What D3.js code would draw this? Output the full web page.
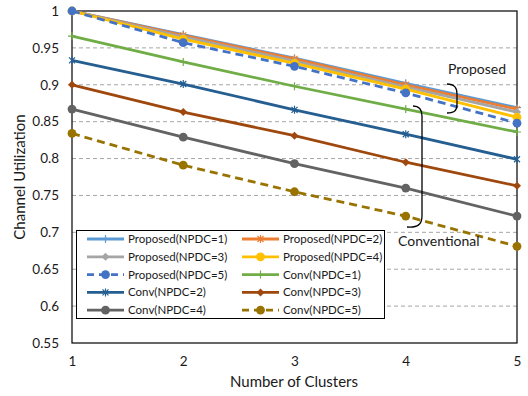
<!DOCTYPE html>
<html>
<head>
<meta charset="utf-8">
<script src="https://cdn.jsdelivr.net/npm/d3@7"></script>
<style>
  body { margin: 0; background: #fff; }
  svg text { font-family: Lato, "Open Sans", sans-serif; fill: #1a1a1a; }
</style>
</head>
<body>
<svg id="chart" width="528" height="396"></svg>
<script>
// data
const clusters = [1, 2, 3, 4, 5];
const yTicks = [0.55, 0.6, 0.65, 0.7, 0.75, 0.8, 0.85, 0.9, 0.95, 1];

const proposed1 = [1, 0.968, 0.936, 0.902, 0.869];
const proposed2 = [1, 0.967, 0.935, 0.900, 0.867];
const proposed3 = [1, 0.965, 0.932, 0.897, 0.863];
const proposed4 = [1, 0.962, 0.929, 0.894, 0.856];
const proposed5 = [1, 0.957, 0.925, 0.889, 0.848];
const conv1 = [0.966, 0.931, 0.898, 0.867, 0.836];
const conv2 = [0.933, 0.901, 0.866, 0.833, 0.799];
const conv3 = [0.900, 0.863, 0.831, 0.795, 0.763];
const conv4 = [0.867, 0.829, 0.793, 0.760, 0.722];
const conv5 = [0.834, 0.791, 0.755, 0.722, 0.681];

const series = [
  { name: 'Proposed(NPDC=1)', values: proposed1, color: '#5B9BD5', marker: 'plus', dash: null },
  { name: 'Proposed(NPDC=2)', values: proposed2, color: '#ED7D31', marker: 'star', dash: null },
  { name: 'Proposed(NPDC=3)', values: proposed3, color: '#A5A5A5', marker: 'diamond', dash: null },
  { name: 'Proposed(NPDC=4)', values: proposed4, color: '#FFC000', marker: 'circle', dash: null },
  { name: 'Proposed(NPDC=5)', values: proposed5, color: '#4472C4', marker: 'circle', dash: '8,5' },
  { name: 'Conv(NPDC=1)', values: conv1, color: '#70AD47', marker: 'plus', dash: null },
  { name: 'Conv(NPDC=2)', values: conv2, color: '#255E91', marker: 'star', dash: null },
  { name: 'Conv(NPDC=3)', values: conv3, color: '#9E480E', marker: 'diamond', dash: null },
  { name: 'Conv(NPDC=4)', values: conv4, color: '#636363', marker: 'circle', dash: null },
  { name: 'Conv(NPDC=5)', values: conv5, color: '#997300', marker: 'circle', dash: '8,5' }
];

const svg = d3.select('#chart');
const plotLeft = 72, plotRight = 517, plotTop = 11, plotBottom = 343;

const xscale = d3.scaleLinear().domain([1, 5]).range([plotLeft, plotRight]);
const yscale = d3.scaleLinear().domain([0.55, 1]).range([plotBottom, plotTop]);

// dashed gridlines
svg.append('g')
  .selectAll('line')
  .data(yTicks.filter(d => d > 0.56 && d < 0.99))
  .join('line')
  .attr('x1', plotLeft).attr('x2', plotRight)
  .attr('y1', d => yscale(d)).attr('y2', d => yscale(d))
  .attr('stroke', '#A6A6A6')
  .attr('stroke-width', 1)
  .attr('stroke-dasharray', '4,3');

// plot frame
svg.append('rect')
  .attr('x', plotLeft).attr('y', plotTop)
  .attr('width', plotRight - plotLeft).attr('height', plotBottom - plotTop)
  .attr('fill', 'none')
  .attr('stroke', '#000')
  .attr('stroke-width', 1.2);

// axes (labels only)
const yaxis = d3.axisLeft(yscale).tickValues(yTicks).tickSize(0).tickPadding(13)
  .tickFormat(d => String(+d.toFixed(2)));
const yg = svg.append('g').attr('transform', `translate(${plotLeft},0)`).call(yaxis);
yg.select('.domain').remove();
yg.selectAll('text').style('font-size', '13.5px').attr('fill', '#1a1a1a');

const xaxis = d3.axisBottom(xscale).tickValues(clusters).tickSize(0).tickPadding(13)
  .tickFormat(d3.format('d'));
const xg = svg.append('g').attr('transform', `translate(0,${plotBottom})`).call(xaxis);
xg.select('.domain').remove();
xg.selectAll('text').style('font-size', '13.5px').attr('fill', '#1a1a1a');

svg.append('text')
  .attr('x', 294).attr('y', 387)
  .attr('text-anchor', 'middle')
  .style('font-size', '15px')
  .text('Number of Clusters');

svg.append('text')
  .attr('transform', `translate(25,${(plotTop + plotBottom) / 2}) rotate(-90)`)
  .attr('text-anchor', 'middle')
  .style('font-size', '15px')
  .text('Channel Utilization');

function drawMarker(g, type, color, x, y, s) {
  if (type === 'circle') {
    g.append('circle').attr('cx', x).attr('cy', y).attr('r', s * 1.1).attr('fill', color);
  } else if (type === 'diamond') {
    g.append('path')
      .attr('d', `M${x},${y - s}L${x + s},${y}L${x},${y + s}L${x - s},${y}Z`)
      .attr('fill', color);
  } else if (type === 'plus') {
    g.append('path')
      .attr('d', `M${x - s},${y}H${x + s}M${x},${y - s}V${y + s}`)
      .attr('stroke', color).attr('stroke-width', 1.2);
  } else if (type === 'star') {
    const k = s * 0.75;
    g.append('path')
      .attr('d', `M${x - k},${y - k}L${x + k},${y + k}M${x - k},${y + k}L${x + k},${y - k}M${x},${y - s}V${y + s}`)
      .attr('stroke', color).attr('stroke-width', 1.2).attr('fill', 'none');
  }
}

const line = d3.line()
  .x((d, i) => xscale(clusters[i]))
  .y(d => yscale(d));

const plot = svg.append('g');
series.forEach(s => {
  const g = plot.append('g');
  g.append('path')
    .attr('d', line(s.values))
    .attr('fill', 'none')
    .attr('stroke', s.color)
    .attr('stroke-width', 2.8)
    .attr('stroke-dasharray', s.dash);
  s.values.forEach((v, i) => drawMarker(g, s.marker, s.color, xscale(clusters[i]), yscale(v), 4));
});

// legend
const legend = svg.append('g');
legend.append('rect')
  .attr('x', 76.5).attr('y', 230.5)
  .attr('width', 308).attr('height', 88)
  .attr('fill', '#fff')
  .attr('stroke', '#000')
  .attr('stroke-width', 1);

series.forEach((s, i) => {
  const col = i % 2, row = Math.floor(i / 2);
  const lx = col === 0 ? 87 : 242;
  const ly = 239 + row * 17.8;
  const g = legend.append('g');
  g.append('line')
    .attr('x1', lx).attr('x2', lx + 37)
    .attr('y1', ly).attr('y2', ly)
    .attr('stroke', s.color)
    .attr('stroke-width', 2.8)
    .attr('stroke-dasharray', s.dash ? '7,5' : null);
  drawMarker(g, s.marker, s.color, lx + 18.5, ly, 4);
  g.append('text')
    .attr('x', lx + 41).attr('y', ly)
    .attr('dy', '0.35em')
    .style('font-size', '11.5px')
    .text(s.name);
});

// annotations
svg.append('path')
  .attr('d', 'M447,84 C455,84 457,88 457,94 L457,104 C457,110 455,113 447,113')
  .attr('fill', 'none').attr('stroke', '#000').attr('stroke-width', 1.3);
svg.append('text')
  .attr('x', 448).attr('y', 74)
  .style('font-size', '14px')
  .text('Proposed');

svg.append('path')
  .attr('d', 'M413,106 C420,106 422,110 422,116 L422,216 C422,224 418,228 407,227')
  .attr('fill', 'none').attr('stroke', '#000').attr('stroke-width', 1.3);
svg.append('text')
  .attr('x', 398).attr('y', 246)
  .style('font-size', '14px')
  .text('Conventional');
</script>
</body>
</html>
